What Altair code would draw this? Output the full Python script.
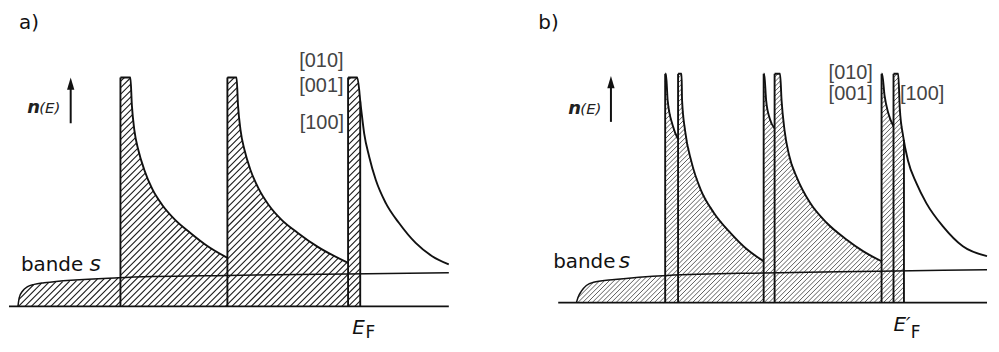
import altair as alt
import numpy as np
import pandas as pd

# ======================= panel a) =======================
# energy E (arbitrary units) and density of states n(E) (arbitrary units)
A_BASE_E = [0.0, 96.1]
A_S_E = [1.96, 2.24, 2.98, 4.07, 5.50, 7.67, 23.98, 47.6, 73.9, 96.1]
A_S_N = [0.00, 0.38, 0.67, 0.86, 0.96, 1.03, 1.25, 1.35, 1.41, 1.47]
A_EDGES = [24.35, 47.72, 74.09]
A_D1_E = [24.35, 26.52, 26.85, 27.39, 28.26, 29.57, 31.30, 33.48, 36.30, 39.57, 43.26, 47.72]
A_D1_N = [10, 10, 8.78, 7.70, 6.83, 5.96, 5.13, 4.43, 3.78, 3.22, 2.65, 2.12]
A_D2_E = [47.72, 49.72, 50.04, 50.59, 51.46, 52.76, 54.57, 56.74, 59.57, 63.04, 67.39, 74.09]
A_D2_N = [10, 10, 8.78, 7.70, 6.83, 5.96, 5.13, 4.43, 3.78, 3.22, 2.61, 1.90]
A_D3_E = [74.09, 76.09, 76.89, 77.61, 78.70, 80.15, 82.33, 85.22, 88.85, 92.46, 96.09]
A_D3_N = [10, 10, 8.71, 7.55, 6.54, 5.52, 4.51, 3.64, 2.77, 2.19, 1.83]
A_EF = 76.74

# ======================= panel b) =======================
B_BASE_E = [6.96, 100.65]
B_S_E = [10.93, 11.30, 12.02, 13.11, 14.93, 19.28, 30.87, 51.89, 77.24, 100.65]
B_S_N = [0.00, 0.24, 0.50, 0.75, 0.90, 1.01, 1.19, 1.30, 1.37, 1.44]
B_EDGES = [30.33, 33.15, 51.85, 54.24, 77.61, 80.22]
B_D1A_E = [30.33, 30.50, 30.87, 31.96, 33.15]
B_D1A_N = [10, 10, 8.84, 7.75, 7.14]
B_D1B_E = [33.15, 33.91, 34.02, 34.67, 36.09, 38.11, 41.02, 44.63, 48.26, 51.85]
B_D1B_N = [10, 10, 8.84, 7.53, 6.14, 4.93, 3.91, 3.04, 2.32, 1.81]
B_D2A_E = [51.85, 51.96, 52.39, 53.15, 54.24]
B_D2A_N = [10, 10, 8.84, 8.06, 7.62]
B_D2B_E = [54.24, 55.43, 55.76, 56.41, 57.39, 59.13, 62.02, 65.65, 70.00, 73.63, 77.61]
B_D2B_N = [10, 10, 8.84, 7.53, 6.45, 5.45, 4.35, 3.48, 2.75, 2.24, 1.81]
B_D3A_E = [77.61, 77.72, 78.26, 79.02, 80.22]
B_D3A_N = [10, 10, 9.06, 8.32, 7.71]
B_D3B_E = [80.22, 81.24, 81.59, 82.33, 83.41, 85.22, 87.39, 91.02, 95.37, 100.65]
B_D3B_N = [10, 10, 8.49, 7.27, 6.19, 5.22, 4.35, 3.33, 2.46, 2.03]
B_EF = 82.5

# ---------------- texts (label, E, n) ----------------
A_TXT_PANEL = [("a)", 2.2, 12.13)]
A_TXT_N = [("n", 4.0, 8.43)]
A_TXT_NE = [("(E)", 6.6, 8.43)]
A_TXT_DIR = [("[010]", 68.26, 10.45), ("[001]", 68.26, 9.36), ("[100]", 68.37, 7.77)]
A_TXT_BANDE = [("bande", 2.61, 1.53)]
A_TXT_S = [("s", 17.6, 1.53)]
A_TXT_E = [("E", 75.0, -1.22)]
A_TXT_F = [("F", 77.9, -1.39)]
A_ARROW = (13.48, 8.0, 9.5, 9.73)

B_TXT_PANEL = [("b)", 2.6, 11.97)]
B_TXT_N = [("n", 9.13, 8.26)]
B_TXT_NE = [("(E)", 11.8, 8.26)]
B_TXT_DIR = [("[010]", 70.87, 9.78), ("[001]", 70.87, 8.84), ("[100]", 86.48, 8.84)]
B_TXT_BANDE = [("bande", 5.87, 1.52)]
B_TXT_S = [("s", 20.2, 1.52)]
B_TXT_E = [("E\u2032", 80.2, -1.235)]
B_TXT_F = [("F", 84.0, -1.552)]
B_ARROW = (18.48, 7.9, 9.4, 9.64)

PX_E = 4.6    # pixels per energy unit
PX_N = 23.0   # pixels per n unit
H = 334
INK = "#111111"


def make_top(s_E, s_N, curves):
    s_E = np.asarray(s_E, float)
    s_N = np.asarray(s_N, float)

    def top(E):
        E = np.asarray(E, float)
        out = np.interp(E, s_E, s_N, left=0.0, right=s_N[-1])
        for cE, cN in curves:
            m = E >= cE[0]
            out[m] = np.interp(E[m], cE, cN)
        return out
    return top


def hatch(top, e_lo, e_hi, step_px):
    slope = PX_E / PX_N
    E = np.arange(e_lo, e_hi, 0.004)
    T = top(E)
    ks = np.arange(e_lo - 11.0 / slope, e_hi, step_px / PX_E)
    rows = []
    for k in ks:
        n = slope * (E - k)
        inside = (n >= 0) & (n <= T)
        if not inside.any():
            continue
        d = np.diff(inside.astype(int))
        starts = list(np.where(d == 1)[0] + 1)
        ends = list(np.where(d == -1)[0])
        if inside[0]:
            starts = [0] + starts
        if inside[-1]:
            ends = ends + [len(E) - 1]
        for s, e in zip(starts, ends):
            if e > s:
                rows.append(dict(E=E[s], n=n[s], E2=E[e], n2=n[e]))
    return pd.DataFrame(rows)


def tdf(items):
    return pd.DataFrame([dict(t=t, E=e, n=n) for t, e, n in items])


def panel(base_E, s_E, s_N, curves, edges, EF, txt, arrow, step_px, hcol, hw, xdom, ydom, width):
    xs = alt.Scale(domain=xdom, nice=False, zero=False)
    ys = alt.Scale(domain=ydom, nice=False, zero=False)

    def X(f):
        return alt.X(f, type="quantitative", scale=xs, axis=None)

    def Y(f):
        return alt.Y(f, type="quantitative", scale=ys, axis=None)

    top = make_top(s_E, s_N, curves)
    hd = hatch(top, s_E[0], EF, step_px)

    hatch_layer = alt.Chart(hd).mark_rule(color=hcol, strokeWidth=hw).encode(
        x=X("E"), y=Y("n"), x2="E2", y2="n2")

    base_df = pd.DataFrame({"E": [base_E[0]], "E2": [base_E[1]], "n": [0.0]})
    base_layer = alt.Chart(base_df).mark_rule(color=INK, strokeWidth=1.6).encode(
        x=X("E"), x2="E2", y=Y("n"))

    s_df = pd.DataFrame({"E": s_E, "n": s_N})
    s_layer = alt.Chart(s_df).mark_line(color=INK, strokeWidth=1.5, interpolate="monotone").encode(
        x=X("E"), y=Y("n"))

    rows = []
    for ci, (cE, cN) in enumerate(curves):
        for i, (e, n) in enumerate(zip(cE, cN)):
            rows.append(dict(c=ci, i=i, E=e, n=n))
    c_layer = alt.Chart(pd.DataFrame(rows)).mark_line(
        color=INK, strokeWidth=1.9, interpolate="monotone").encode(
        x=X("E"), y=Y("n"), detail="c:N", order="i:Q")

    ed = pd.DataFrame({"E": list(edges) + [EF],
                       "n": [0.0] * (len(edges) + 1),
                       "n2": [10.0] * len(edges) + [float(top(np.array([EF]))[0])]})
    e_layer = alt.Chart(ed).mark_rule(color=INK, strokeWidth=1.9).encode(
        x=X("E"), y=Y("n"), y2="n2")

    ax, a0, a1, ah = arrow
    sh = pd.DataFrame({"E": [ax], "n": [a0], "n2": [a1]})
    shaft = alt.Chart(sh).mark_rule(color=INK, strokeWidth=2).encode(
        x=X("E"), y=Y("n"), y2="n2")
    head = alt.Chart(pd.DataFrame({"E": [ax], "n": [ah]})).mark_point(
        shape="M0,-1L0.6,1L-0.6,1Z", size=150, filled=True, color=INK, opacity=1).encode(
        x=X("E"), y=Y("n"))

    def text(items, **kw):
        return alt.Chart(tdf(items)).mark_text(align=kw.pop("align", "left"),
                                               baseline="alphabetic", **kw).encode(
            x=X("E"), y=Y("n"), text="t:N")

    texts = [
        text(txt["panel"], font="DejaVu Sans", fontSize=20, color="#111"),
        text(txt["n"], font="DejaVu Sans", fontSize=18, fontStyle="italic", fontWeight="bold", color="#222"),
        text(txt["ne"], font="DejaVu Sans", fontSize=15, fontStyle="italic", color="#222"),
        text(txt["dir"], font="Liberation Sans Narrow, Liberation Sans", fontSize=20, color="#444", align="center"),
        text(txt["bande"], font="DejaVu Sans", fontSize=20, color="#111"),
        text(txt["s"], font="DejaVu Sans", fontSize=22, fontStyle="italic", color="#111"),
        text(txt["E"], font="DejaVu Sans", fontSize=20, fontStyle="italic", color="#111"),
        text(txt["F"], font="DejaVu Sans", fontSize=17, color="#111"),
    ]

    return alt.layer(hatch_layer, base_layer, s_layer, c_layer, e_layer, shaft, head, *texts).properties(
        width=width, height=H)


a_curves = [(A_D1_E, A_D1_N), (A_D2_E, A_D2_N), (A_D3_E, A_D3_N)]
b_curves = [(B_D1A_E, B_D1A_N), (B_D1B_E, B_D1B_N), (B_D2A_E, B_D2A_N),
            (B_D2B_E, B_D2B_N), (B_D3A_E, B_D3A_N), (B_D3B_E, B_D3B_N)]

a_txt = dict(panel=A_TXT_PANEL, n=A_TXT_N, ne=A_TXT_NE, dir=A_TXT_DIR,
             bande=A_TXT_BANDE, s=A_TXT_S, E=A_TXT_E, F=A_TXT_F)
b_txt = dict(panel=B_TXT_PANEL, n=B_TXT_N, ne=B_TXT_NE, dir=B_TXT_DIR,
             bande=B_TXT_BANDE, s=B_TXT_S, E=B_TXT_E, F=B_TXT_F)

a_base_py, b_base_py = 307.0, 303.3
a_ydom = [(a_base_py - 8 - H) / PX_N, (a_base_py - 8) / PX_N]
b_ydom = [(b_base_py - 8 - H) / PX_N, (b_base_py - 8) / PX_N]

pa = panel(A_BASE_E, A_S_E, A_S_N, a_curves, A_EDGES, A_EF, a_txt, A_ARROW,
           6.5, "#1a1a1a", 1.1, [0, 460 / PX_E], a_ydom, 460)
pb = panel(B_BASE_E, B_S_E, B_S_N, b_curves, B_EDGES, B_EF, b_txt, B_ARROW,
           4.8, "#4a4a4a", 0.9, [0, 463 / PX_E], b_ydom, 463)

chart = alt.hconcat(pa, pb, spacing=60).properties(padding=0, background="white").configure_view(stroke=None)

chart.save("out.html", embed_options={"renderer": "svg", "actions": False})
